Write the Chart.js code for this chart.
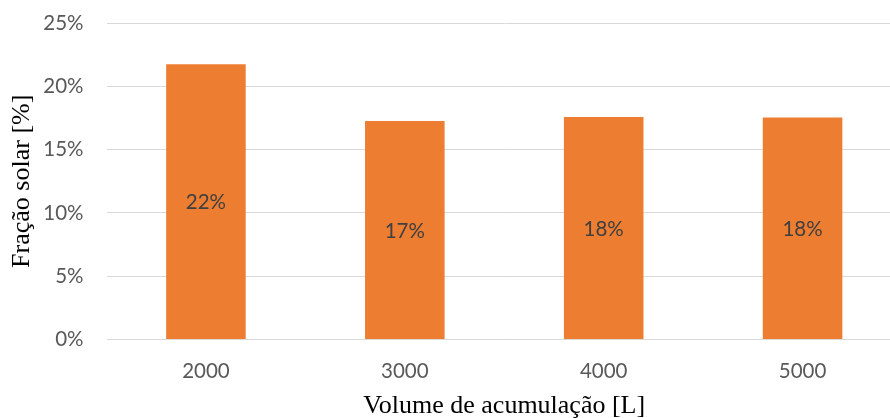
<!DOCTYPE html>
<html lang="pt">
<head>
<meta charset="utf-8">
<title>Fração solar por volume de acumulação</title>
<script src="https://cdn.jsdelivr.net/npm/chart.js@4/dist/chart.umd.min.js"></script>
<style>
  html, body { margin: 0; padding: 0; background: #ffffff; overflow: hidden; }
  #wrap { position: relative; width: 902px; height: 430px; }
</style>
</head>
<body>
<div id="wrap"><canvas id="chart" width="902" height="430"></canvas></div>
<script>
// Volumes de acumulação (L) e fração solar obtida (%)
const volumes = ['2000', '3000', '4000', '5000'];
const fracaoSolar = [21.75, 17.25, 17.58, 17.53];
const yTicks = [0, 5, 10, 15, 20, 25];

const tickFont = { family: 'Lato, "Open Sans", sans-serif', size: 20.5 };
const titleFont = { family: '"Liberation Serif", "Times New Roman", serif', size: 26 };

// Rótulo percentual arredondado no centro de cada barra
const barLabels = {
  id: 'barLabels',
  afterDatasetsDraw(chart) {
    const ctx = chart.ctx;
    const meta = chart.getDatasetMeta(0);
    ctx.save();
    ctx.font = `${tickFont.size}px ${tickFont.family}`;
    ctx.fillStyle = '#404040';
    ctx.textAlign = 'center';
    ctx.textBaseline = 'middle';
    meta.data.forEach((bar, i) => {
      const v = chart.data.datasets[0].data[i];
      ctx.fillText(Math.round(v) + '%', bar.x, (bar.y + bar.base) / 2 + 1);
    });
    ctx.restore();
  }
};

new Chart(document.getElementById('chart'), {
  type: 'bar',
  data: {
    labels: volumes,
    datasets: [{
      data: fracaoSolar,
      backgroundColor: '#ED7D31',
      borderWidth: 0,
      barPercentage: 0.4,
      categoryPercentage: 1.0
    }]
  },
  options: {
    responsive: false,
    devicePixelRatio: 1,
    animation: false,
    layout: { padding: { top: 23, right: 0, bottom: 0, left: 0 } },
    plugins: { legend: { display: false }, tooltip: { enabled: false } },
    scales: {
      x: {
        grid: { display: false, drawTicks: false },
        border: { display: false },
        ticks: { color: '#595959', font: tickFont, padding: 20 },
        title: {
          display: true,
          text: 'Volume de acumulação [L]',
          color: '#000000',
          font: titleFont,
          padding: { top: 0, bottom: 8 }
        },
        afterFit(scale) { scale.height = 90.5; }
      },
      y: {
        min: 0,
        max: 25,
        afterBuildTicks(scale) { scale.ticks = yTicks.map(v => ({ value: v })); },
        grid: { color: '#d9d9d9', lineWidth: 1, drawTicks: false },
        border: { display: false },
        ticks: {
          color: '#595959',
          font: tickFont,
          padding: 23,
          callback: v => v + '%'
        },
        title: {
          display: true,
          text: 'Fração solar [%]',
          color: '#000000',
          font: titleFont,
          padding: { top: 7, bottom: 0 }
        },
        afterFit(scale) {
          scale.width = 106.5;
          scale.paddingTop = 0;
          scale.paddingBottom = 0;
        }
      }
    }
  },
  plugins: [barLabels]
});
</script>
</body>
</html>
